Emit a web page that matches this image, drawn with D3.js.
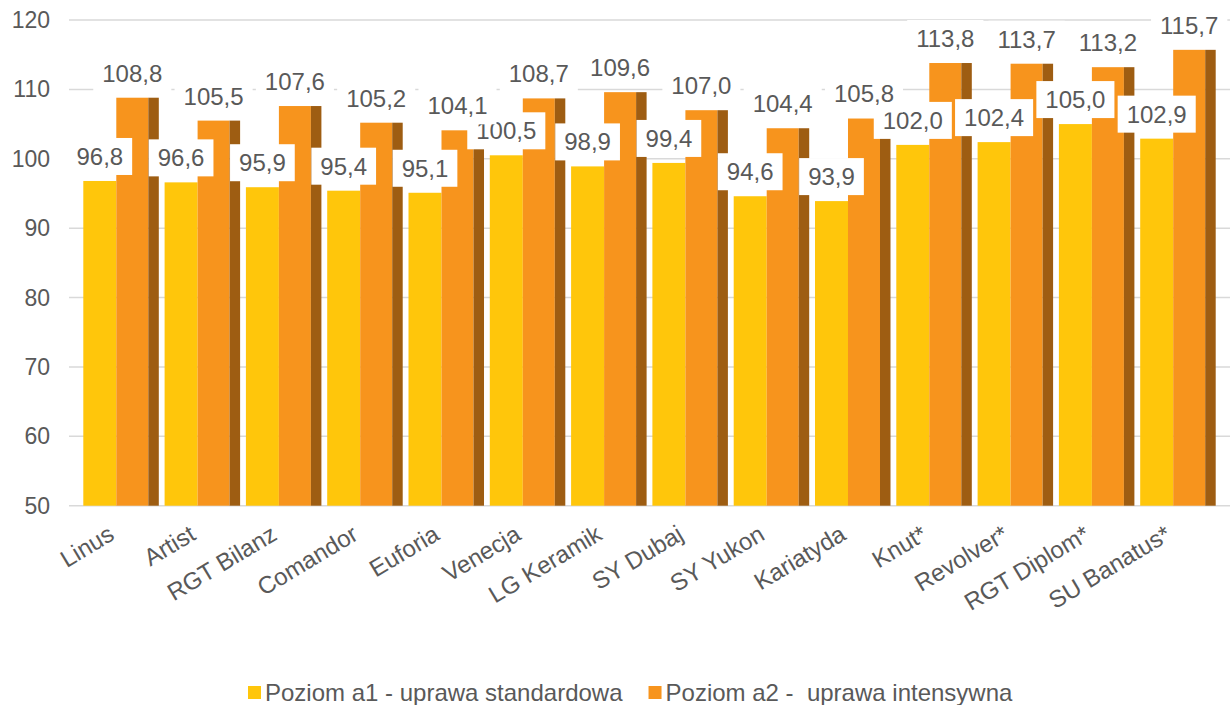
<!DOCTYPE html>
<html>
<head>
<meta charset="utf-8">
<script src="https://cdn.jsdelivr.net/npm/d3@7"></script>
<style>
  html, body { margin: 0; padding: 0; background: #fff; }
  svg { display: block; font-family: "Liberation Sans", Arial, sans-serif; }
</style>
</head>
<body>
<svg id="chart" width="1230" height="705"></svg>
<script>
const categories = ["Linus", "Artist", "RGT Bilanz", "Comandor", "Euforia", "Venecja", "LG Keramik", "SY Dubaj", "SY Yukon", "Kariatyda", "Knut*", "Revolver*", "RGT Diplom*", "SU Banatus*"];
const seriesA1 = [96.8, 96.6, 95.9, 95.4, 95.1, 100.5, 98.9, 99.4, 94.6, 93.9, 102.0, 102.4, 105.0, 102.9];
const seriesA2 = [108.8, 105.5, 107.6, 105.2, 104.1, 108.7, 109.6, 107.0, 104.4, 105.8, 113.8, 113.7, 113.2, 115.7];
const seriesNames = ["Poziom a1 - uprawa standardowa", "Poziom a2 -  uprawa intensywna"];
const yTicks = [50, 60, 70, 80, 90, 100, 110, 120];

const colA1 = "#FFC60B", colA2 = "#F7941D", colSide = "#9E5D12";
const textCol = "#595959", gridCol = "#D9D9D9";

const svg = d3.select("#chart");
const y = d3.scaleLinear().domain([50, 120]).range([505.7, 20]);
const x = d3.scaleBand().domain(categories).range([80.4, 1218.6]).paddingInner(0.0713).paddingOuter(0.0357);
const bw = x.bandwidth();
const wA1 = bw * 0.437, wA2 = bw * 0.424, wSide = bw * 0.139;

// gridlines
svg.append("g").selectAll("line").data(yTicks).join("line")
  .attr("x1", 69).attr("x2", 1230)
  .attr("y1", d => y(d)).attr("y2", d => y(d))
  .attr("stroke", gridCol).attr("stroke-width", 1.5);

// y tick labels
svg.append("g").selectAll("text").data(yTicks).join("text")
  .attr("x", 50).attr("y", d => y(d)).attr("dy", "0.35em")
  .attr("text-anchor", "end").attr("fill", textCol).attr("font-size", 23)
  .text(d => d);

const data = categories.map((c, i) => ({ c, a1: seriesA1[i], a2: seriesA2[i] }));

// bars
const g = svg.append("g");
g.selectAll("rect.a1").data(data).join("rect").attr("class", "a1")
  .attr("x", d => x(d.c)).attr("width", wA1)
  .attr("y", d => y(d.a1)).attr("height", d => y(50) - y(d.a1))
  .attr("fill", colA1);
g.selectAll("rect.a2").data(data).join("rect").attr("class", "a2")
  .attr("x", d => x(d.c) + wA1).attr("width", wA2)
  .attr("y", d => y(d.a2)).attr("height", d => y(50) - y(d.a2))
  .attr("fill", colA2);
g.selectAll("rect.side").data(data).join("rect").attr("class", "side")
  .attr("x", d => x(d.c) + wA1 + wA2).attr("width", wSide)
  .attr("y", d => y(d.a2)).attr("height", d => y(50) - y(d.a2))
  .attr("fill", colSide);

const fmt = v => v.toFixed(1).replace(".", ",");

function addLabels(key, cxFn) {
  const lg = svg.append("g");
  data.forEach(d => {
    const cx = cxFn(d);
    const top = y(d[key]);
    const cy = top - 6 - 18.5;
    const grp = lg.append("g");
    const t = grp.append("text")
      .attr("x", cx).attr("y", cy).attr("dy", "0.35em")
      .attr("text-anchor", "middle").attr("fill", textCol).attr("font-size", 24)
      .text(fmt(d[key]));
    const w = t.node().getComputedTextLength();
    grp.insert("rect", "text")
      .attr("x", cx - w / 2 - 9).attr("width", w + 18)
      .attr("y", cy - 18.5).attr("height", 37)
      .attr("fill", "#fff");
  });
}
addLabels("a1", d => x(d.c) + wA1 / 2);
addLabels("a2", d => x(d.c) + wA1 + wA2 / 2);

// x labels
svg.append("g").selectAll("text").data(categories).join("text")
  .attr("transform", d => `translate(${x(d) + bw / 2 - 14},524) rotate(-31)`)
  .attr("text-anchor", "end").attr("dy", "0.71em")
  .attr("fill", textCol).attr("font-size", 24)
  .text(d => d);

// legend
const leg = svg.append("g");
const items = [{ name: seriesNames[0], col: colA1 }, { name: seriesNames[1], col: colA2 }];
let lx = 248;
items.forEach((it, i) => {
  leg.append("rect").attr("x", lx).attr("y", 686).attr("width", 13).attr("height", 13).attr("fill", it.col);
  const t = leg.append("text").attr("x", lx + 17).attr("y", 693).attr("dy", "0.35em")
    .attr("fill", textCol).attr("font-size", 24).style("white-space", "pre")
    .text(it.name);
  lx = lx + 17 + t.node().getComputedTextLength() + 26;
});
</script>
</body>
</html>
